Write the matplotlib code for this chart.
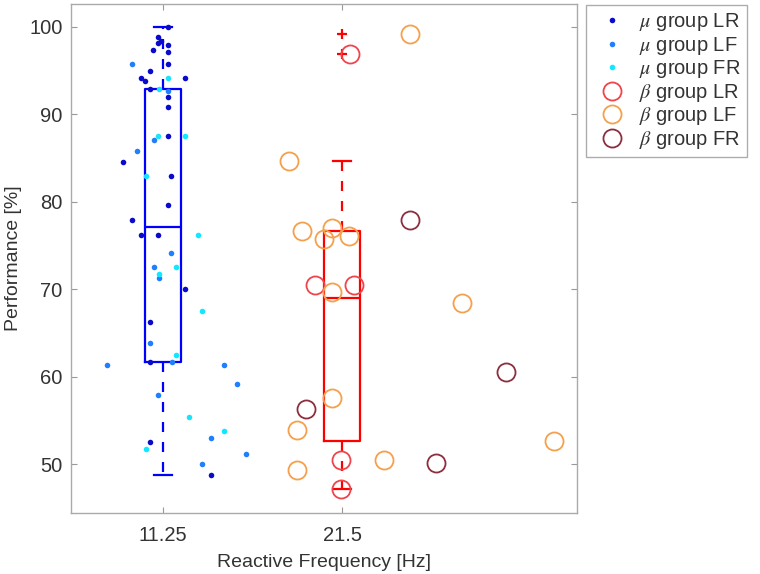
import matplotlib
matplotlib.use('Agg')
import matplotlib.pyplot as plt
from matplotlib.lines import Line2D

plt.rcParams['font.family'] = ['Liberation Sans', 'DejaVu Sans']
plt.rcParams['mathtext.fontset'] = 'stix'

# ─── data ───────────────────────────────────────────────────────────────
tick_pos = [1, 2]
tick_labels = ['11.25', '21.5']

mu_lr_x = [1.03, 0.974, 0.987, 0.974, 1.026, 0.946, 1.026, 1.026, 0.927, 0.875,
           0.899, 1.123, 0.927, 1.026, 1.026, 1.026, 0.778, 1.045, 1.026, 0.828,
           0.877, 0.974, 1.123, 0.927, 0.927, 0.927, 1.266]
mu_lr_y = [100.0, 98.8, 98.4, 98.1, 97.9, 97.4, 97.1, 95.8, 95.0, 94.1,
           93.8, 94.1, 92.9, 92.0, 90.8, 87.5, 84.5, 82.9, 79.6, 77.9,
           76.2, 76.2, 70.0, 66.3, 61.7, 52.5, 48.8]

mu_lf_x = [0.828, 1.026, 0.950, 0.853, 1.045, 0.950, 0.978, 0.927, 1.049, 0.685,
           1.341, 1.412, 0.974, 1.266, 1.462, 1.216]
mu_lf_y = [95.8, 92.6, 87.1, 85.8, 74.1, 72.5, 71.3, 63.8, 61.7, 61.3,
           61.3, 59.2, 57.9, 53.0, 51.2, 50.0]

mu_fr_x = [1.026, 0.979, 0.974, 1.123, 0.903, 1.192, 1.073, 0.978, 1.216, 1.073,
           1.145, 1.341, 0.903]
mu_fr_y = [94.1, 92.9, 87.5, 87.5, 82.9, 76.2, 72.5, 71.7, 67.5, 62.5,
           55.4, 53.8, 51.7]

beta_lr_x = [2.041, 1.845, 2.063, 1.993, 1.993]
beta_lr_y = [96.9, 70.5, 70.5, 50.5, 47.2]

beta_lf_x = [2.380, 1.700, 1.775, 1.942, 1.896, 2.039, 1.942, 1.942, 1.747, 2.235,
             1.747, 2.669, 3.180]
beta_lf_y = [99.2, 84.6, 76.7, 77.0, 75.7, 76.1, 69.7, 57.6, 53.9, 50.5,
             49.3, 68.4, 52.6]

beta_fr_x = [2.380, 1.799, 2.523, 2.915]
beta_fr_y = [77.9, 56.3, 50.1, 60.5]

# box statistics: whislo, q1, med, q3, whishi, outliers
mu_box = dict(whislo=48.8, q1=61.7, med=77.1, q3=92.9, whishi=100.0, fliers=[])
beta_box = dict(whislo=47.2, q1=52.6, med=69.0, q3=76.7, whishi=84.6, fliers=[96.9, 99.2])

# ─── plot ───────────────────────────────────────────────────────────────
fig = plt.figure(figsize=(7.6, 5.74), dpi=100)
ax = fig.add_axes([0.0934, 0.106, 0.666, 0.887])

for stats, pos, col in [(mu_box, 1, '#0000ff'), (beta_box, 2, '#ff0000')]:
    ax.bxp([stats], positions=[pos], widths=0.2, capwidths=0.1, showfliers=True,
           boxprops=dict(color=col, linewidth=1.6),
           medianprops=dict(color=col, linewidth=1.6),
           whiskerprops=dict(color=col, linewidth=1.6, linestyle=(0, (4.5, 4.5))),
           capprops=dict(color=col, linewidth=1.6),
           flierprops=dict(marker='+', markeredgecolor=col, markersize=7,
                           markeredgewidth=1.6))

ax.plot(mu_lr_x, mu_lr_y, 'o', color='#0a0acc', ms=4, mec='none', zorder=5)
ax.plot(mu_lf_x, mu_lf_y, 'o', color='#1f7fff', ms=4, mec='none', zorder=5)
ax.plot(mu_fr_x, mu_fr_y, 'o', color='#14e6ff', ms=4, mec='none', zorder=5)

ax.plot(beta_lr_x, beta_lr_y, 'o', mfc='none', mec='#f0444c', ms=13, mew=1.3, zorder=6)
ax.plot(beta_lf_x, beta_lf_y, 'o', mfc='none', mec='#f5a04c', ms=13, mew=1.3, zorder=6)
ax.plot(beta_fr_x, beta_fr_y, 'o', mfc='none', mec='#8c2e3e', ms=13, mew=1.3, zorder=6)

ax.set_xlim(0.486, 3.31)
ax.set_ylim(44.4, 102.6)
ax.set_xticks(tick_pos)
ax.set_xticklabels(tick_labels)
ax.set_yticks([50, 60, 70, 80, 90, 100])

ax.tick_params(direction='in', length=4, width=0.8, colors='#999999',
               labelcolor='#333333', labelsize=14.5, top=True, right=True)
ax.tick_params(axis='x', pad=9)
ax.tick_params(axis='y', pad=6)
for sp in ax.spines.values():
    sp.set_color('#aaaaaa')
    sp.set_linewidth(1.0)

ax.set_xlabel('Reactive Frequency [Hz]', fontsize=14, color='#333333', labelpad=7)
ax.set_ylabel('Performance [%]', fontsize=14, color='#333333', labelpad=5)

handles = [
    Line2D([], [], ls='none', marker='o', color='#0a0acc', ms=4, mec='none'),
    Line2D([], [], ls='none', marker='o', color='#1f7fff', ms=4, mec='none'),
    Line2D([], [], ls='none', marker='o', color='#14e6ff', ms=4, mec='none'),
    Line2D([], [], ls='none', marker='o', mfc='none', mec='#f0444c', ms=13, mew=1.3),
    Line2D([], [], ls='none', marker='o', mfc='none', mec='#f5a04c', ms=13, mew=1.3),
    Line2D([], [], ls='none', marker='o', mfc='none', mec='#8c2e3e', ms=13, mew=1.3),
]
labels = [r'$\mu$ group LR', r'$\mu$ group LF', r'$\mu$ group FR',
          r'$\beta$ group LR', r'$\beta$ group LF', r'$\beta$ group FR']
leg = fig.legend(handles, labels, loc='upper left',
                 bbox_to_anchor=(586 / 760, 1 - 5 / 574),
                 fontsize=14.5, frameon=True, fancybox=False, edgecolor='#999999',
                 handlelength=2.0, handletextpad=0.35, labelspacing=0.08,
                 borderpad=0.3, borderaxespad=0)
leg.get_frame().set_linewidth(1.0)
for t in leg.get_texts():
    t.set_color('#333333')

plt.savefig('out.png', dpi=100)
plt.close()
